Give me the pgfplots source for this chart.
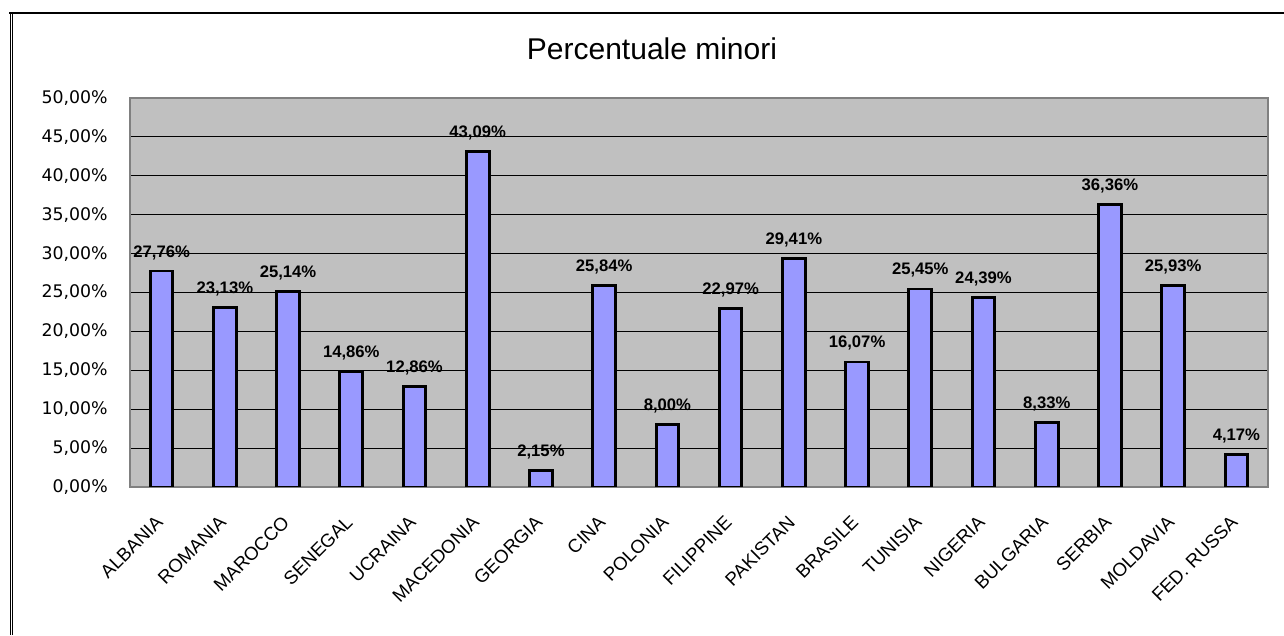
\documentclass[border=0pt]{standalone}
\usepackage{pgfplots}
\pgfplotsset{compat=1.18}
\usepackage{fontspec}
\setmainfont{Liberation Sans}
\newfontfamily\dejavu{DejaVu Sans}
\definecolor{barblue}{HTML}{9999FF}
\definecolor{plotgray}{HTML}{C0C0C0}
\definecolor{framegray}{HTML}{808080}
\begin{document}
\begin{tikzpicture}
\useasboundingbox (0,0) rectangle (963pt,476.25pt);
\draw[line width=1.5pt] (7.1pt,466.5pt) -- (963pt,466.5pt);
\draw[line width=0.75pt] (7.9pt,466.5pt) -- (7.9pt,0pt);
\draw[line width=0.75pt] (9.6pt,466.5pt) -- (9.6pt,0pt);
\node[anchor=base, font=\fontsize{22.5}{25}\selectfont] at (489pt,431.25pt) {Percentuale minori};
\begin{axis}[
  at={(97.5pt,111pt)}, anchor=south west,
  scale only axis, width=853.5pt, height=291.75pt,
  xmin=-0.5, xmax=17.5, ymin=0, ymax=50,
  ybar, bar width=17pt,
  axis background/.style={fill=plotgray},
  axis line style={draw=framegray, line width=2pt},
  ymajorgrids, grid style={black, line width=0.8pt},
  ytick={0,5,...,50},
  xtick={0,...,17},
  major tick length=0pt,
  /pgf/number format/assume math mode=true,
  yticklabel={\pgfmathprintnumber[fixed,fixed zerofill,precision=2,use comma]{\tick}\%},
  yticklabel style={font=\dejavu\fontsize{13}{15}\selectfont, anchor=east, inner sep=0pt, xshift=-16.5pt},
  xticklabels={ALBANIA,ROMANIA,MAROCCO,SENEGAL,UCRAINA,MACEDONIA,GEORGIA,CINA,POLONIA,FILIPPINE,PAKISTAN,BRASILE,TUNISIA,NIGERIA,BULGARIA,SERBIA,MOLDAVIA,FED. RUSSA},
  xticklabel style={font=\fontsize{14}{16}\selectfont, anchor=east, inner sep=0pt, yshift=-24pt, xshift=-1.5pt, rotate=45},
  nodes near coords={\pgfmathprintnumber[fixed,fixed zerofill,precision=2,use comma]{\pgfplotspointmeta}\%},
  nodes near coords style={font=\bfseries\fontsize{12.5}{14}\selectfont, anchor=base, inner sep=0pt, yshift=10.5pt, text=black},
]
\addplot[fill=barblue, draw=black, line width=2.2pt] coordinates {
(0,27.76) (1,23.13) (2,25.14) (3,14.86) (4,12.86) (5,43.09) (6,2.15) (7,25.84) (8,8.00)
(9,22.97) (10,29.41) (11,16.07) (12,25.45) (13,24.39) (14,8.33) (15,36.36) (16,25.93) (17,4.17)
};
\end{axis}
\end{tikzpicture}
\end{document}
